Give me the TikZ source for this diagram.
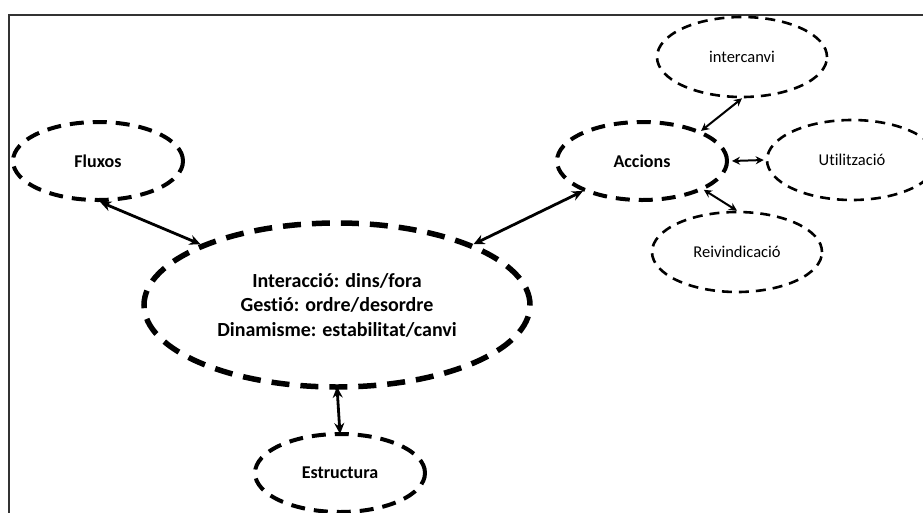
\documentclass[tikz,border=0pt]{standalone}
\usepackage{fontspec}
\setmainfont{Carlito}[Ligatures=NoCommon]
\usetikzlibrary{shapes.geometric,arrows.meta}

\begin{document}
\begin{tikzpicture}[x=1pt,y=-1pt,
  oval/.style={ellipse, draw, inner sep=0pt, align=center},
  bigoval/.style={oval, line width=5.5pt, dash pattern=on 18pt off 11pt,
    minimum width=386pt, minimum height=164pt,
    font=\bfseries\fontsize{20}{24.5}\selectfont},
  midoval/.style={oval, line width=4pt, dash pattern=on 14pt off 9pt,
    minimum width=170pt, minimum height=78pt,
    font=\bfseries\fontsize{18}{22}\selectfont},
  smalloval/.style={oval, line width=2.6pt, dash pattern=on 10pt off 7pt,
    minimum width=170pt, minimum height=80pt,
    font=\fontsize{16.5}{20}\selectfont},
  biglink/.style={line width=2.8pt, {Stealth[length=11pt,width=10pt]}-{Stealth[length=11pt,width=10pt]}},
  smalllink/.style={line width=2pt, {Stealth[length=8pt,width=8pt]}-{Stealth[length=8pt,width=8pt]}},
  frame/.style={draw=black!80, line width=2pt}]
\useasboundingbox (0,0) rectangle (923,512);

% open frame: only the top and left edges fall inside the page
\draw[frame] (9,530) -- (9,15) -- (940,15);

% ovals
\node[bigoval] (main) at (337,305) {Interacció: dins/fora\\Gestió: ordre/desordre\\Dinamisme: estabilitat/canvi};
\node[midoval] (fluxos) at (98,161) {Fluxos};
\node[midoval] (accions) at (642,161) {Accions};
\node[midoval] (estructura) at (340,473) {Estructura};
\node[smalloval] (intercanvi) at (742,57) {intercanvi};
\node[smalloval] (utilitzacio) at (852,160) {Utilització};
\node[smalloval] (reivindicacio) at (737,252) {Reivindicació};

% links
\draw[biglink] (fluxos.-87) -- (main.156);
\draw[biglink] (main.24) -- (accions.207);
\draw[biglink] ([yshift=3pt]main.south) -- ([yshift=-2pt]estructura.north);
\draw[smalllink] (accions.27) -- (intercanvi.south);
\draw[smalllink] ([xshift=3pt]accions.east) -- ([xshift=-2pt]utilitzacio.west);
\draw[smalllink] (accions.-25) -- (reivindicacio.north);
\end{tikzpicture}
\end{document}
